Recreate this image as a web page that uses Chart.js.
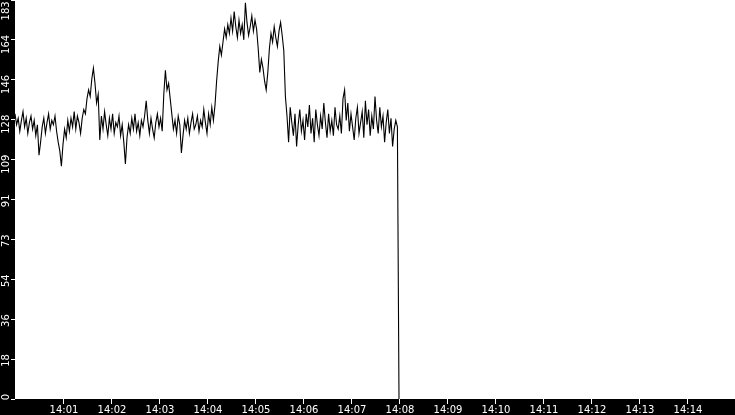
<!DOCTYPE html>
<html>
<head>
<meta charset="utf-8">
<script src="https://cdn.jsdelivr.net/npm/chart.js@4/dist/chart.umd.min.js"></script>
<style>
  html, body { margin: 0; padding: 0; background: #000; }
  canvas { display: block; }
</style>
</head>
<body>
<canvas id="lineChart" width="735" height="415"></canvas>
<script>
// samples every 2 s starting 14:00:00
const sampleStep = 2;
const xMax = 900; // 14:15
const yMax = 183.3;

const xTickLabels = ['14:01', '14:02', '14:03', '14:04', '14:05', '14:06', '14:07',
    '14:08', '14:09', '14:10', '14:11', '14:12', '14:13', '14:14'];
const yTickLabels = ['0', '18', '36', '54', '73', '91', '109', '128', '146', '164', '183'];

const values = [
    131, 126, 129, 123, 128, 132, 125, 129, 122, 127, 130, 124, 128, 121, 126,
    112, 118,
    125, 129, 122, 127, 131, 124, 128, 126, 130, 123, 118, 114,
    107,
    117, 124, 120, 128, 123, 129, 125, 132, 124, 130, 127, 122, 129, 133,
    131, 138, 142, 139, 147, 152, 145, 136, 140, 119,
    130, 124, 132, 126, 121, 129, 124, 131, 122, 127, 125, 130, 121, 126, 118,
    108,
    120, 126, 122, 129, 124, 131, 123, 127, 121, 128, 125, 130,
    137, 128, 122, 129, 124, 120, 127, 131, 125, 129, 123, 140,
    151, 142, 145, 138, 131, 124, 128, 122, 130, 126,
    113,
    121, 128, 124, 129, 122, 127, 131, 124, 126, 130, 123, 128, 125, 133, 127,
    122, 131, 126, 134, 128, 135,
    146, 155, 162, 158, 164, 170, 166, 172,
    168, 175, 169, 178, 171, 166, 174, 168, 172, 165, 182, 173, 167, 171, 176,
    169, 174, 170,
    161, 150, 156, 152, 146, 142, 150, 161, 168,
    164, 171, 166, 162, 169, 173, 167, 160,
    139, 130, 118, 134, 127, 121, 131, 116, 126, 133,
    123, 128, 119, 131, 125, 135, 122, 129, 118, 133,
    126, 121, 130, 124, 136, 127, 120, 131, 123, 128,
    121, 134, 126, 124, 130, 122, 138, 142, 128, 136,
    123, 131, 125, 119, 129, 134, 122, 127, 132, 120,
    137, 126, 133, 121, 130, 124, 139, 128, 122, 134,
    125, 130, 118, 127, 133, 122, 129, 116, 124, 128,
    125,
    0
];

Chart.defaults.font.family = 'DejaVu Sans';
Chart.defaults.font.size = 10;

// black strips round a white plot
const backdrop = {
    id: 'backdrop',
    beforeDraw(chart) {
        const { ctx, chartArea } = chart;
        ctx.save();
        ctx.fillStyle = '#000';
        ctx.fillRect(0, 0, chart.width, chart.height);
        ctx.fillStyle = '#fff';
        ctx.fillRect(chartArea.left, chartArea.top, chartArea.right - chartArea.left, chartArea.bottom - chartArea.top);
        ctx.restore();
    }
};

const points = values.map((v, i) => ({ x: i * sampleStep, y: v }));

new Chart(document.getElementById('lineChart'), {
    type: 'line',
    data: {
        datasets: [{
            data: points,
            borderColor: '#000',
            borderWidth: 1.1,
            pointRadius: 0,
            tension: 0,
            fill: false
        }]
    },
    options: {
        responsive: false,
        animation: false,
        layout: { padding: 0 },
        plugins: {
            legend: { display: false },
            tooltip: { enabled: false }
        },
        scales: {
            x: {
                type: 'linear',
                min: 0,
                max: xMax,
                afterBuildTicks: (scale) => {
                    scale.ticks = xTickLabels.map((l, i) => ({ value: (i + 1) * 60 }));
                },
                afterFit: (scale) => {
                    scale.height = 16;
                    scale.paddingLeft = 0;
                    scale.paddingRight = 0;
                },
                border: { display: false },
                grid: {
                    drawOnChartArea: false,
                    color: '#fff',
                    tickLength: 5,
                    tickWidth: 1
                },
                ticks: {
                    autoSkip: false,
                    maxRotation: 0,
                    color: '#fff',
                    padding: 0,
                    labelOffset: 1,
                    callback: (value, index) => xTickLabels[index]
                }
            },
            y: {
                min: 0,
                max: yMax,
                afterBuildTicks: (scale) => {
                    scale.ticks = yTickLabels.map((l, i) => ({ value: i * yMax / 10 }));
                },
                afterFit: (scale) => {
                    scale.width = 15;
                    scale.paddingTop = 0;
                    scale.paddingBottom = 0;
                },
                border: { display: false },
                grid: {
                    drawOnChartArea: false,
                    color: '#fff',
                    tickLength: 4,
                    tickWidth: 1
                },
                ticks: {
                    autoSkip: false,
                    minRotation: 90,
                    maxRotation: 90,
                    color: '#fff',
                    padding: 4.5,
                    labelOffset: -5,
                    // top label is kept inside the canvas
                    callback: (value, index) => index === yTickLabels.length - 1 ? yTickLabels[index] + '  ' : yTickLabels[index]
                }
            }
        }
    },
    plugins: [backdrop]
});
</script>
</body>
</html>
